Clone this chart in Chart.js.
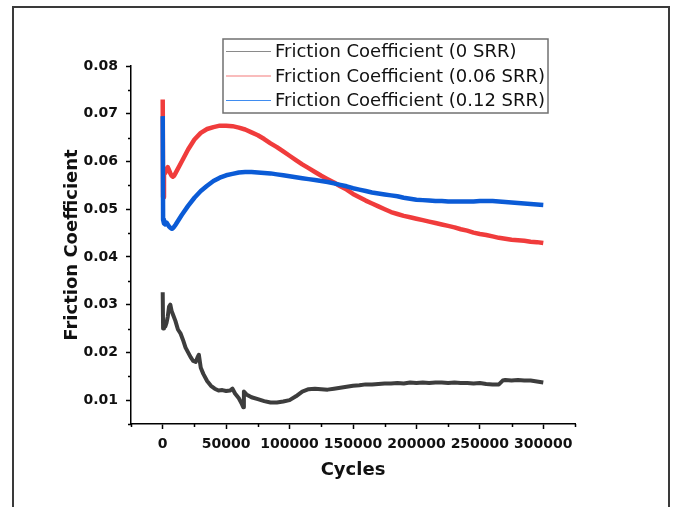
<!DOCTYPE html>
<html>
<head>
<meta charset="utf-8">
<script src="https://cdn.jsdelivr.net/npm/chart.js@4.4.1/dist/chart.umd.min.js"></script>
<style>
  html, body { margin: 0; padding: 0; background: #fff; }
  canvas { display: block; }
</style>
</head>
<body>
<canvas id="myChart" width="675" height="507"></canvas>
<script>
// friction coefficient vs cycles for three slide-to-roll ratios
const seriesLabels = ["Friction Coefficient (0 SRR)", "Friction Coefficient (0.06 SRR)", "Friction Coefficient (0.12 SRR)"];
const lineColors = ["#3d3d3d", "#f03c3c", "#0b5bd6"];
const legendColors = ["#8a8a8a", "#f47a7a", "#3f8cf0"];

const cycles0 = [0, 300, 1000, 2000, 3000, 4000, 5000, 6000, 7000, 8000, 10000, 12000, 14000, 16000, 18000,
  20000, 22000, 24000, 26000, 27500, 28500, 30000, 32000, 35000, 38000, 41000, 44000, 47000, 50000, 53000,
  55000, 57000, 60000, 62000, 63500, 64000, 66000, 70000, 75000, 80000, 85000, 90000, 95000, 100000, 105000,
  110000, 115000, 120000, 125000, 130000, 135000, 140000, 145000, 150000, 155000, 160000, 165000, 170000,
  175000, 180000, 185000, 190000, 195000, 200000, 205000, 210000, 215000, 220000, 225000, 230000, 235000,
  240000, 245000, 250000, 255000, 260000, 265000, 268000, 270000, 275000, 280000, 285000, 290000, 295000, 300000];
const friction0 = [0.0326, 0.0250, 0.0262, 0.0254, 0.0262, 0.0275, 0.0296, 0.0300, 0.0287, 0.0280, 0.0266, 0.0248, 0.0240, 0.0226, 0.0210,
  0.0200, 0.0190, 0.0182, 0.0180, 0.0190, 0.0195, 0.0168, 0.0155, 0.0140, 0.0130, 0.0124, 0.0120, 0.0121, 0.0119, 0.0120,
  0.0124, 0.0114, 0.0104, 0.0094, 0.0085, 0.0118, 0.0112, 0.0106, 0.0102, 0.0098, 0.0095, 0.0095, 0.0097, 0.0100, 0.0108,
  0.0118, 0.0123, 0.0124, 0.0123, 0.0122, 0.0124, 0.0126, 0.0128, 0.0130, 0.0131, 0.0133, 0.0133, 0.0134,
  0.0135, 0.0135, 0.0136, 0.0135, 0.0137, 0.0136, 0.0137, 0.0136, 0.0137, 0.0137, 0.0136, 0.0137, 0.0136,
  0.0136, 0.0135, 0.0136, 0.0134, 0.0133, 0.0133, 0.0141, 0.0142, 0.0141, 0.0142, 0.0141, 0.0141, 0.0139, 0.0137];

const cyclesSrr = [0, 300, 1000, 2000, 3000, 4000, 5000, 6000, 7000, 8000, 9000, 10000, 15000, 20000, 25000,
  30000, 35000, 40000, 45000, 50000, 55000, 60000, 65000, 70000, 75000, 80000, 85000, 90000, 95000, 100000,
  105000, 110000, 115000, 120000, 125000, 130000, 135000, 140000, 145000, 150000, 155000, 160000, 165000,
  170000, 175000, 180000, 185000, 190000, 195000, 200000, 205000, 210000, 215000, 220000, 225000, 230000,
  235000, 240000, 245000, 250000, 255000, 260000, 265000, 270000, 275000, 280000, 285000, 290000, 295000, 300000];
const friction006 = [0.0730, 0.0525, 0.0580, 0.0576, 0.0584, 0.0588, 0.0582, 0.0575, 0.0570, 0.0568, 0.0570, 0.0575, 0.0600, 0.0625, 0.0646,
  0.0660, 0.0668, 0.0672, 0.0675, 0.0675, 0.0674, 0.0671, 0.0667, 0.0661, 0.0655, 0.0647, 0.0638, 0.0630, 0.0621, 0.0612,
  0.0603, 0.0594, 0.0586, 0.0578, 0.0570, 0.0563, 0.0556, 0.0548, 0.0541, 0.0532, 0.0525, 0.0518, 0.0512,
  0.0506, 0.0500, 0.0494, 0.0490, 0.0486, 0.0483, 0.0480, 0.0477, 0.0474, 0.0471, 0.0468, 0.0465, 0.0462,
  0.0458, 0.0455, 0.0451, 0.0448, 0.0446, 0.0443, 0.0440, 0.0438, 0.0436, 0.0435, 0.0434, 0.0432, 0.0431, 0.0429];
const friction012 = [0.0695, 0.0478, 0.0470, 0.0468, 0.0472, 0.0468, 0.0464, 0.0461, 0.0459, 0.0460, 0.0463, 0.0467, 0.0488, 0.0507, 0.0524,
  0.0538, 0.0549, 0.0559, 0.0566, 0.0571, 0.0574, 0.0577, 0.0578, 0.0578, 0.0577, 0.0576, 0.0575, 0.0573, 0.0571, 0.0569,
  0.0567, 0.0565, 0.0563, 0.0561, 0.0559, 0.0557, 0.0554, 0.0551, 0.0548, 0.0544, 0.0541, 0.0538, 0.0535,
  0.0533, 0.0531, 0.0529, 0.0527, 0.0524, 0.0522, 0.0520, 0.0519, 0.0518, 0.0517, 0.0517, 0.0516, 0.0516,
  0.0516, 0.0516, 0.0516, 0.0517, 0.0517, 0.0517, 0.0516, 0.0515, 0.0514, 0.0513, 0.0512, 0.0511, 0.0510, 0.0509];

const xTickStep = 25000;
const yTickStep = 0.005;

function toPoints(xs, ys) {
  return xs.map((x, i) => ({ x: x, y: ys[i] }));
}

const tickFont = { family: "DejaVu Sans", size: 14, weight: "bold" };
const titleFont = { family: "DejaVu Sans", size: 18, weight: "bold" };

const isMajorX = v => v % 50000 === 0;
const isMajorY = v => Math.round(v * 1000) % 10 === 0;

// white page with the outer frame
const framePlugin = {
  id: "frame",
  beforeDraw(chart) {
    const ctx = chart.ctx;
    ctx.save();
    ctx.fillStyle = "#fff";
    ctx.fillRect(0, 0, chart.width, chart.height);
    ctx.strokeStyle = "#3a3a3a";
    ctx.lineWidth = 2;
    ctx.strokeRect(13, 7, 656, 530);
    ctx.restore();
  }
};

// short minor ticks between the labelled ones
const minorTicks = {
  id: "minorTicks",
  afterDraw(chart) {
    const ctx = chart.ctx;
    const xs = chart.scales.x, ys = chart.scales.y;
    ctx.save();
    ctx.strokeStyle = "#000";
    ctx.lineWidth = 1.5;
    ctx.beginPath();
    xs.ticks.forEach(t => {
      if (isMajorX(t.value)) return;
      const px = Math.round(xs.getPixelForValue(t.value)) + 0.5;
      ctx.moveTo(px, xs.top);
      ctx.lineTo(px, xs.top + 3);
    });
    ys.ticks.forEach(t => {
      if (isMajorY(t.value)) return;
      const py = Math.round(ys.getPixelForValue(t.value)) + 0.5;
      ctx.moveTo(ys.right, py);
      ctx.lineTo(ys.right - 3, py);
    });
    ctx.stroke();
    ctx.restore();
  }
};

// boxed legend inside the plot
const legendBox = {
  id: "legendBox",
  afterDraw(chart) {
    const ctx = chart.ctx;
    const area = chart.chartArea;
    const left = area.left + 92, top = area.top - 27, w = 325, h = 74;
    ctx.save();
    ctx.fillStyle = "#fff";
    ctx.fillRect(left, top, w, h);
    ctx.strokeStyle = "#707070";
    ctx.lineWidth = 1.5;
    ctx.strokeRect(left, top, w, h);
    ctx.font = "18px 'DejaVu Sans'";
    ctx.textBaseline = "middle";
    seriesLabels.forEach((label, i) => {
      const cy = top + 12.5 + i * 24.5;
      ctx.strokeStyle = legendColors[i];
      ctx.lineWidth = 1.2;
      ctx.beginPath();
      ctx.moveTo(left + 3, cy);
      ctx.lineTo(left + 48, cy);
      ctx.stroke();
      ctx.fillStyle = "#111";
      ctx.fillText(label, left + 52, cy + 1);
    });
    ctx.restore();
  }
};

new Chart("myChart", {
  type: "line",
  data: {
    datasets: [
      { label: seriesLabels[0], data: toPoints(cycles0, friction0), borderColor: lineColors[0], borderWidth: 4, order: 2 },
      { label: seriesLabels[1], data: toPoints(cyclesSrr, friction006), borderColor: lineColors[1], borderWidth: 4.5, order: 1 },
      { label: seriesLabels[2], data: toPoints(cyclesSrr, friction012), borderColor: lineColors[2], borderWidth: 4.5, order: 0 }
    ]
  },
  options: {
    responsive: false,
    animation: false,
    layout: { padding: { left: 14, right: 100, top: 66, bottom: 0 } },
    elements: { point: { radius: 0 }, line: { tension: 0, borderJoinStyle: "round" } },
    plugins: { legend: { display: false }, tooltip: { enabled: false } },
    scales: {
      x: {
        type: "linear",
        min: -25000,
        max: 325000,
        afterFit(scale) { scale.height = 83; },
        border: { color: "#000", width: 1.5 },
        grid: {
          drawOnChartArea: false,
          tickLength: 5,
          tickWidth: 1.5,
          tickColor: c => isMajorX(c.tick.value) ? "#000" : "rgba(0,0,0,0)"
        },
        ticks: {
          stepSize: xTickStep,
          autoSkip: false,
          maxRotation: 0,
          padding: 7,
          color: "#111",
          font: tickFont,
          callback: v => isMajorX(v) ? String(v) : ""
        },
        title: { display: true, text: "Cycles", color: "#111", font: titleFont, padding: { top: 0, bottom: 26 } }
      },
      y: {
        min: 0.005,
        max: 0.08,
        afterFit(scale) { scale.width = 117; },
        border: { color: "#000", width: 1.5 },
        grid: {
          drawOnChartArea: false,
          tickLength: 5,
          tickWidth: 1.5,
          tickColor: c => isMajorY(c.tick.value) ? "#000" : "rgba(0,0,0,0)"
        },
        ticks: {
          stepSize: yTickStep,
          autoSkip: false,
          padding: 8,
          color: "#111",
          font: tickFont,
          callback: v => isMajorY(v) ? (Math.round(v * 1000) / 1000).toFixed(2) : ""
        },
        title: { display: true, text: "Friction Coefficient", color: "#111", font: titleFont, padding: { top: 48, bottom: 0 } }
      }
    }
  },
  plugins: [framePlugin, minorTicks, legendBox]
});
</script>
</body>
</html>
